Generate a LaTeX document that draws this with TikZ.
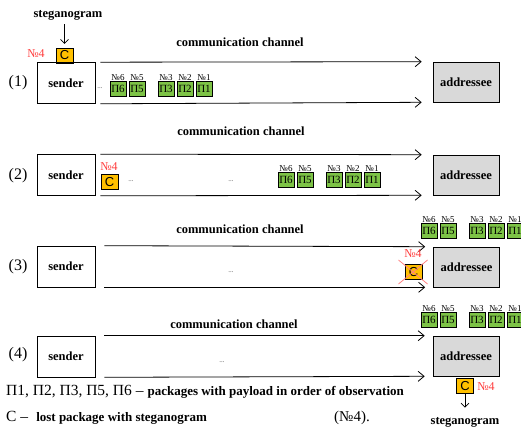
\documentclass[tikz,border=0pt]{standalone}
\usepackage{fontspec}
\setmainfont{Liberation Serif}
\newfontfamily\cfont{Liberation Sans}
\usetikzlibrary{arrows.meta,calc}
\definecolor{pakgreen}{RGB}{125,195,70}
\definecolor{stegorange}{RGB}{255,192,0}
\definecolor{addrgray}{RGB}{217,217,217}
\definecolor{numred}{RGB}{255,60,60}
\definecolor{crossred}{RGB}{255,130,130}
\begin{document}
\begin{tikzpicture}[x=1pt,y=-1pt,
    box/.style={draw,line width=0.6pt,minimum width=58pt,minimum height=41pt,inner sep=0pt,font=\fontsize{12.5}{14}\selectfont\bfseries},
    addr/.style={box,fill=addrgray,minimum width=66pt,minimum height=40pt},
    chan/.style={line width=0.8pt,-{Straight Barb[length=6pt,width=10pt]}},
    down/.style={line width=0.6pt,-{Straight Barb[length=4pt,width=8pt]}},
    pak/.style={draw,fill=pakgreen,minimum width=16pt,minimum height=15pt,inner sep=0pt,font=\fontsize{11}{12}\selectfont},
    lab/.style={inner sep=0.5pt,font=\fontsize{9}{10}\selectfont},
    steg/.style={draw,fill=stegorange,minimum width=17pt,minimum height=15pt,inner sep=0pt,font=\cfont\fontsize{13}{14}\selectfont},
    num/.style={text=numred,font=\fontsize{12}{13}\selectfont},
    bold/.style={font=\fontsize{12.5}{14}\selectfont\bfseries},
    rowno/.style={font=\fontsize{16}{18}\selectfont},
    dots/.style={font=\fontsize{7}{8}\selectfont,text=black!70}]
    \useasboundingbox (0,0) rectangle (521,427);

    \node[bold] (st1) at (68,15) {steganogram};
    \node[steg] (c1) at (64.5,55.5) {C};
    \node[num] (n1) at (36,54) {№4};
    \draw[down,shorten <=1pt,shorten >=4pt] (st1.south -| c1.north) -- (c1.north);

    \node[rowno] (r1) at (18,83) {(1)};
    \node[rowno] (r2) at (18,176) {(2)};
    \node[rowno] (r3) at (18,267) {(3)};
    \node[rowno] (r4) at (18,355) {(4)};

    \node[box] (s1) at (66,83) {sender};
    \node[box] (s2) at (66,175) {sender};
    \node[box] (s3) at (66,266.5) {sender};
    \node[box] (s4) at (66,356.5) {sender};

    \node[addr] (a1) at (466,82) {addressee};
    \node[addr] (a2) at (466,175) {addressee};
    \node[addr] (a3) at (466.5,267) {addressee};
    \node[addr] (a4) at (466,356) {addressee};

    \node[bold] (cc1) at (240,42) {communication channel};
    \node[bold] (cc2) at (241,131) {communication channel};
    \node[bold] (cc3) at (240,229) {communication channel};
    \node[bold] (cc4) at (234,324) {communication channel};

    \draw[chan] ([xshift=5pt]s1.north east) -- ([xshift=-11pt]a1.north west);
    \draw[chan] ([xshift=5pt]s1.south east) -- ([xshift=-11pt]a1.south west);
    \draw[chan] ([xshift=5pt]s2.north east) -- ([xshift=-11pt]a2.north west);
    \draw[chan] ([xshift=5pt]s2.south east) -- ([xshift=-11pt]a2.south west);
    \draw[chan] ([xshift=9pt]s3.north east) -- ([xshift=-8pt]a3.north west);
    \draw[chan] ([xshift=9pt]s3.south east) -- ([xshift=-8pt]a3.south west);
    \draw[chan] ([xshift=9pt]s4.north east) -- ([xshift=-8pt]a4.north west);
    \draw[chan] ([xshift=9pt]s4.south east) -- ([xshift=-8pt]a4.south west);

    \foreach \r/\x/\y in {1/118/88.5,2/286/179.5,3/429/230.5,4/429/319.5}
        \foreach \n/\dx in {6/0,5/19,3/48,2/67,1/86}
            \node[pak,label={[lab]above:№\n}] (p\r\n) at (\x+\dx,\y) {П\n};

    \node[dots] (d1) at (100,88) {...};
    \node[dots] (d2) at (131,181) {...};
    \node[dots] (d3) at (231,181) {...};
    \node[dots] (d4) at (231,272) {...};
    \node[dots] (d5) at (222,362) {...};

    \node[num] (n2) at (109,167) {№4};
    \node[steg] (c2) at (109.5,182) {C};

    \node[steg] (c3) at (413.5,272) {C};
    \node[num] (n3) at (413,254) {№4};
    \draw[crossred,line width=0.8pt] ($(c3)+(-15,-12)$) -- ($(c3)+(14,12)$);
    \draw[crossred,line width=0.8pt] ($(c3)+(-15,12)$) -- ($(c3)+(14,-12)$);

    \node[steg] (c4) at (465,386) {C};
    \node[num] (n4) at (486,387) {№4};
    \node[bold] (st4) at (465,422) {steganogram};
    \draw[down,shorten >=6pt] (c4.south) -- (c4.south |- st4.north);

    \node[anchor=west,inner sep=0pt] (leg1) at (6,392) {\fontsize{15.5}{17}\selectfont П1, П2, П3, П5, П6 – \textbf{\fontsize{13}{15}\selectfont packages with payload in order of observation}};
    \node[anchor=west,inner sep=0pt] (leg2) at (6,418) {\fontsize{15.5}{17}\selectfont C –\hspace{8pt}\textbf{\fontsize{13}{15}\selectfont lost package with steganogram}};
    \node (leg3) at (352,418) {\fontsize{15}{17}\selectfont (№4).};
\end{tikzpicture}
\end{document}
